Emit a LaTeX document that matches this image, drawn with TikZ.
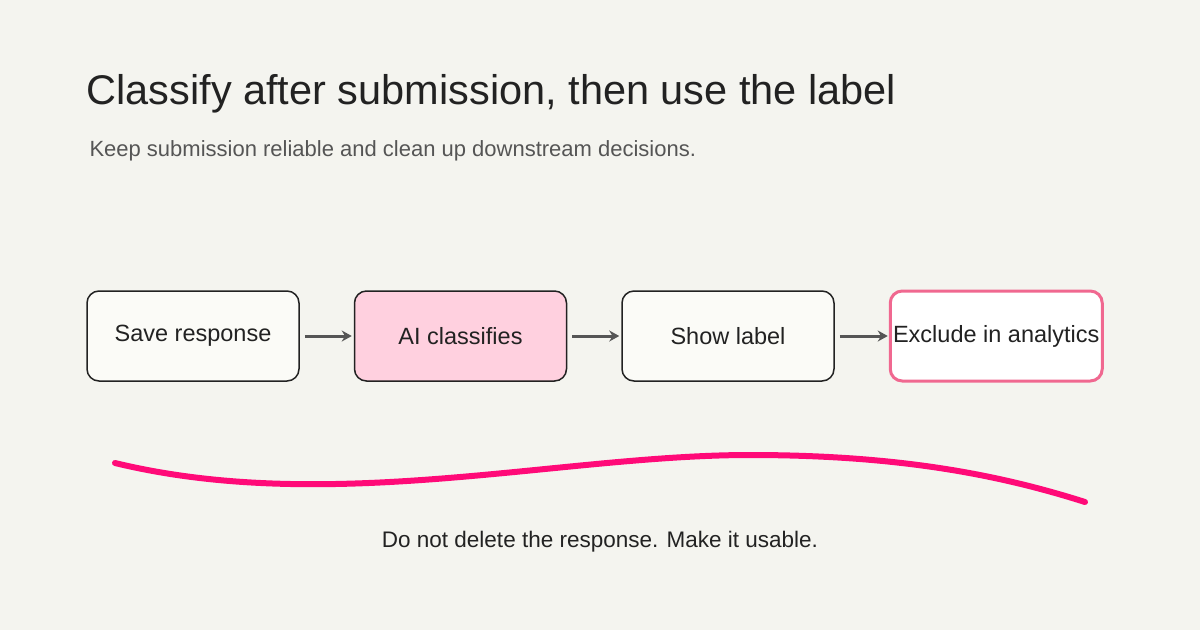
\documentclass[tikz,border=0pt]{standalone}
\usepackage{fontspec}
\setmainfont{Liberation Sans}
\usetikzlibrary{positioning,arrows.meta}
\definecolor{bgc}{HTML}{F4F4EF}
\definecolor{boxfill}{HTML}{FBFBF7}
\definecolor{ink}{HTML}{222222}
\definecolor{pinkfill}{HTML}{FFD0DF}
\definecolor{pinkline}{HTML}{F06890}
\definecolor{magenta}{HTML}{FF0A78}
\definecolor{arrowc}{HTML}{555555}
\begin{document}
\begin{tikzpicture}[x=1pt,y=-1pt,
    stage/.style = {draw=ink, line width=1.5pt, rounded corners=12pt, fill=boxfill,
      minimum width=212pt, minimum height=90pt, inner sep=0pt, text=ink,
      font=\fontsize{23.5}{27}\selectfont},
    flow/.style = {draw=arrowc, line width=3pt, -{Stealth[length=10pt,width=11pt]}}]
    \fill[bgc] (0,0) rectangle (1200,630);
    \useasboundingbox (0,0) rectangle (1200,630);
    \node[anchor=base west, text=ink, font=\fontsize{41.5}{46}\selectfont] (title) at (83,104) {Classify after submission, then use the label};
    \node[anchor=base west, text=arrowc, font=\fontsize{22}{26}\selectfont] (sub) at (86,156) {Keep submission reliable and clean up downstream decisions.};
    \node[stage] (save) at (193,336) {Save response};
    \node[stage, fill=pinkfill] (ai) [right=54pt of save] {AI classifies};
    \node[stage] (show) [right=54pt of ai] {Show label};
    \node[stage, draw=pinkline, line width=3pt, fill=white, inner xsep=0pt] (excl) [right=54pt of show] {Exclude in analytics};
    \draw[flow] ([xshift=5pt]save.east) -- ([xshift=-2pt]ai.west);
    \draw[flow] ([xshift=5pt]ai.east) -- ([xshift=-2pt]show.west);
    \draw[flow] ([xshift=5pt]show.east) -- ([xshift=-1pt]excl.west);
    \coordinate (wl) at (115,463);
    \coordinate (wr) at (1085,502);
    \draw[magenta, line width=6pt, line cap=round] (wl) .. controls (330,515) and (560,455) .. (750,455) .. controls (900,455) and (1000,475) .. (wr);
    \node[text=ink, font=\fontsize{22.5}{26}\selectfont] (note) at (600,542) {Do not delete the response. Make it usable.};
\end{tikzpicture}
\end{document}
